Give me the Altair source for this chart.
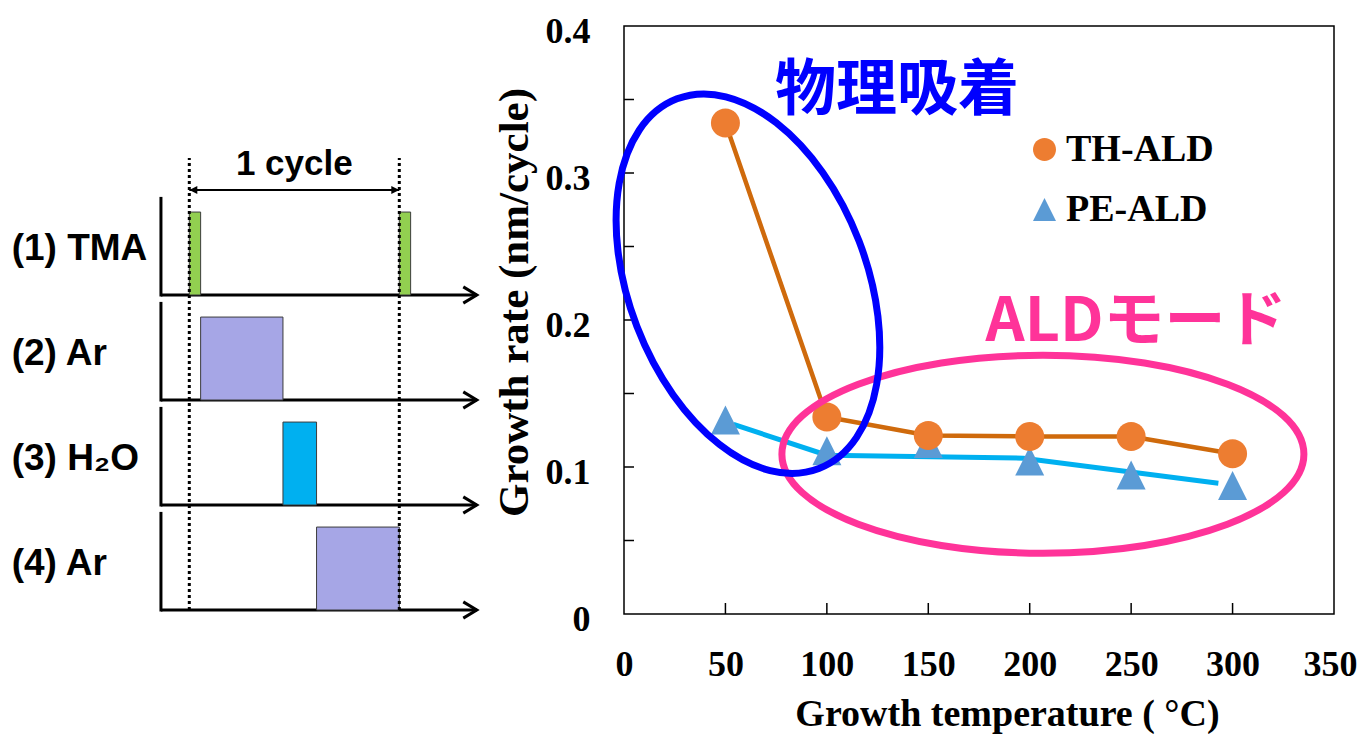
import altair as alt
import pandas as pd

# ---------------- data: right chart ----------------
TEMP = [50, 100, 150, 200, 250, 300]
TH_ALD = [0.334, 0.134, 0.1215, 0.1208, 0.1208, 0.109]
PE_ALD = [0.132, 0.111, 0.116, 0.104, 0.0946, 0.0874]
PE_LINE_TEMP = [54, 100, 197, 293]
PE_LINE_RATE = [0.129, 0.108, 0.106, 0.089]
SERIES = ["TH-ALD", "PE-ALD"]
X_LABELS = [0, 50, 100, 150, 200, 250, 300, 350]
Y_LABELS = [0, 0.1, 0.2, 0.3, 0.4]
X_TICKS = [50, 100, 150, 200, 250, 300]
Y_TICKS = [0.05, 0.1, 0.15, 0.2, 0.25, 0.3, 0.35]

NOTE_TEXT = ["物理吸着", "ALDモード"]
NOTE_TEMP = [134.6, 252.4]
NOTE_RATE = [0.355, 0.198]
ELLIPSE_TEMP = [61.1, 206.5]
ELLIPSE_RATE = [0.2247, 0.1087]

# ---------------- data: left timing diagram ----------------
ROW_LABELS = ["(1) TMA", "(2) Ar", "(3) H\u2082O", "(4) Ar"]
ROW_LEVEL = [3, 2, 1, 0]
PULSE_GAS = ["TMA", "TMA", "Ar", "H2O", "Ar"]
PULSE_ROW = [0, 0, 1, 2, 3]
PULSE_START = [0.0, 1.0, 0.054, 0.446, 0.606]
PULSE_END = [0.054, 1.054, 0.446, 0.606, 1.0]
CYCLE_BOUNDS = [0.0, 1.0]
CYCLE_LABEL = "1 cycle"

# ---------------- layout / style ----------------
PLOT_LEFT, PLOT_TOP, PLOT_W, PLOT_H = 624, 26, 710, 588
T0_PX, T_PX = 189.3, 210.0          # page x of t=0, px per cycle
V0_PY, V_PX = 610.0, 105.0          # page y of level 0, px per level
LX_DOM = [(PLOT_LEFT - T0_PX) / T_PX, (PLOT_LEFT + PLOT_W - T0_PX) / T_PX]
LY_DOM = [(V0_PY - (PLOT_TOP + PLOT_H)) / V_PX, (V0_PY - PLOT_TOP) / V_PX]
AXIS_T, ARROW_T, AXIS_H, PULSE_H, LABEL_T, LABEL_DV = -0.135, 1.369, 0.92, 0.79, -0.846, 0.44
DOT_TOP, CYCLE_V, CYCLE_TEXT_V = 4.305, 4.0, 4.243

GAS_COLOR = {"TMA": "#92D050", "Ar": "#A6A6E6", "H2O": "#00B0F0"}
SERIF = "Liberation Serif"
SANS = "Liberation Sans"
CJK = "Noto Sans CJK JP"

K = 0.5523


def ellipse_path(r):
    return (f"M 1 0 C 1 {K*r:.4f} {K:.4f} {r:.4f} 0 {r:.4f} "
            f"C {-K:.4f} {r:.4f} -1 {K*r:.4f} -1 0 "
            f"C -1 {-K*r:.4f} {-K:.4f} {-r:.4f} 0 {-r:.4f} "
            f"C {K:.4f} {-r:.4f} 1 {-K*r:.4f} 1 0 Z")


CIRCLE = ellipse_path(1.0)
TRIANGLE = "M 0 -1 L 1 1 L -1 1 Z"
CHEVRON = "M -1 -0.6 L 0 0 L -1 0.6"
HEAD = "M 0 0 L -1 -0.5 L -1 0.5 Z"

RX = alt.Scale(domain=[0, 350], nice=False, zero=False)
RY = alt.Scale(domain=[0, 0.4], nice=False, zero=False)
LX = alt.Scale(domain=LX_DOM, nice=False, zero=False)
LY = alt.Scale(domain=LY_DOM, nice=False, zero=False)


def xr(f):
    return alt.X(f"{f}:Q", scale=RX, axis=None)


def yr(f):
    return alt.Y(f"{f}:Q", scale=RY, axis=None)


def xl(f):
    return alt.X(f"{f}:Q", scale=LX, axis=None)


def yl(f):
    return alt.Y(f"{f}:Q", scale=LY, axis=None)


# ---------------- right chart layers ----------------
th_df = pd.DataFrame({"temp": TEMP, "rate": TH_ALD})
pe_line_df = pd.DataFrame({"temp": PE_LINE_TEMP, "rate": PE_LINE_RATE})
pts_df = pd.concat([
    pd.DataFrame({"temp": TEMP, "rate": PE_ALD, "series": SERIES[1]}),
    pd.DataFrame({"temp": TEMP, "rate": TH_ALD, "series": SERIES[0]}),
])

x_axis = alt.Axis(orient="bottom", values=X_LABELS, ticks=False, tickSize=0, domain=False, grid=False,
                  labelFont=SERIF, labelFontWeight="bold", labelFontSize=36, labelColor="black",
                  labelPadding=50, labelBaseline="middle", labelFlush=False, labelOverlap=False,
                  labelOffset={"condition": {"test": f"datum.value == {X_LABELS[-1]}", "value": -4}, "value": 0},
                  title="Growth temperature ( °C)", titleFont=SERIF, titleFontWeight="bold",
                  titleFontSize=38, titleColor="black", titleX=383, titleY=100,
                  titleAlign="center", titleBaseline="middle")
y_axis = alt.Axis(orient="left", values=Y_LABELS, format=".1~f", ticks=False, tickSize=0, domain=False,
                  grid=False, labelFont=SERIF, labelFontWeight="bold", labelFontSize=36,
                  labelColor="black", labelPadding=34, labelOffset=5, labelBaseline="middle",
                  labelAlign="right", labelFlush=False, labelOverlap=False,
                  title="Growth rate (nm/cycle)", titleFont=SERIF, titleFontWeight="bold",
                  titleFontSize=43, titleColor="black", titleX=-110, titleY=276, titleAngle=270,
                  titleAlign="center", titleBaseline="middle")

pe_line = alt.Chart(pe_line_df).mark_line(color="#00B0F0", strokeWidth=5).encode(
    x=alt.X("temp:Q", scale=RX, axis=x_axis), y=alt.Y("rate:Q", scale=RY, axis=y_axis))
th_line = alt.Chart(th_df).mark_line(color="#CF6A0C", strokeWidth=4.5).encode(x=xr("temp"), y=yr("rate"))

legend = alt.Legend(orient="none", legendX=401.5, legendY=104.5, title=None, symbolSize=529,
                    symbolStrokeWidth=0, labelFont=SERIF, labelFontSize=38, labelFontWeight="bold",
                    labelColor="black", labelOffset=2.5, rowPadding=22, padding=0, symbolOffset=0,
                    labelLimit=400)
points = alt.Chart(pts_df).mark_point(filled=True, size=841, opacity=1).encode(
    x=xr("temp"), y=yr("rate"),
    color=alt.Color("series:N", scale=alt.Scale(domain=SERIES, range=["#ED7D31", "#5B9BD5"]), legend=legend),
    shape=alt.Shape("series:N", scale=alt.Scale(domain=SERIES, range=[CIRCLE, TRIANGLE]), legend=legend),
)

ytick = alt.Chart(pd.DataFrame({"rate": Y_TICKS, "temp": 0})).mark_tick(
    orient="horizontal", size=10, thickness=1.5, color="black", opacity=1, xOffset=5).encode(
    x=xr("temp"), y=yr("rate"))
xtick = alt.Chart(pd.DataFrame({"temp": X_TICKS, "rate": 0})).mark_tick(
    orient="vertical", size=11, thickness=1.5, color="black", opacity=1, yOffset=-5.5).encode(
    x=xr("temp"), y=yr("rate"))

ell_df = pd.DataFrame({"temp": ELLIPSE_TEMP, "rate": ELLIPSE_RATE})
pink = alt.Chart(ell_df.iloc[[1]]).mark_point(
    shape=ellipse_path(99 / 261), size=(2 * 261) ** 2, filled=False, stroke="#FF3399",
    strokeWidth=7, opacity=1).encode(x=xr("temp"), y=yr("rate"))
blue = alt.Chart(ell_df.iloc[[0]]).mark_point(
    shape=ellipse_path(119 / 198), size=(2 * 198) ** 2, angle=69, filled=False, stroke="#0000FF",
    strokeWidth=7, opacity=1).encode(x=xr("temp"), y=yr("rate"))

note_df = pd.DataFrame({"text": NOTE_TEXT, "temp": NOTE_TEMP, "rate": NOTE_RATE})
note_colors = ["#0000FF", "#FF3399"]
notes = [
    alt.Chart(note_df.iloc[[i]]).mark_text(font=CJK, fontWeight="bold", fontSize=61, color=note_colors[i],
                                           align="center", baseline="middle").encode(
        x=xr("temp"), y=yr("rate"), text="text:N")
    for i in range(2)
]

# ---------------- left diagram layers ----------------
rows_df = pd.DataFrame({"label": ROW_LABELS, "level": ROW_LEVEL})
rows_df["axis_t"] = AXIS_T
rows_df["arrow_t"] = ARROW_T
rows_df["axis_top"] = rows_df["level"] + AXIS_H
rows_df["label_t"] = LABEL_T
rows_df["label_v"] = rows_df["level"] + LABEL_DV

pulse_df = pd.DataFrame({"gas": PULSE_GAS, "t0": PULSE_START, "t1": PULSE_END})
pulse_df["level"] = [ROW_LEVEL[r] for r in PULSE_ROW]
pulse_df["top"] = pulse_df["level"] + PULSE_H
pulse_df["fill"] = [GAS_COLOR[g] for g in PULSE_GAS]

dot_df = pd.DataFrame({"t": CYCLE_BOUNDS, "v0": 0.0, "v1": DOT_TOP})
head_df = pd.DataFrame({"t": CYCLE_BOUNDS, "v": CYCLE_V, "ang": [180, 0]})

ax_v = alt.Chart(rows_df).mark_rule(strokeWidth=3, color="black", strokeCap="square").encode(
    x=xl("axis_t"), y=yl("level"), y2="axis_top")
ax_h = alt.Chart(rows_df).mark_rule(strokeWidth=3, color="black").encode(
    x=xl("axis_t"), x2="arrow_t", y=yl("level"))
ax_head = alt.Chart(rows_df).mark_point(shape=CHEVRON, size=729, filled=False, stroke="black",
                                        strokeWidth=3, opacity=1).encode(x=xl("arrow_t"), y=yl("level"))
pulses = alt.Chart(pulse_df).mark_rect(stroke="#3C3C3C", strokeWidth=1).encode(
    x=xl("t0"), x2="t1", y=yl("level"), y2="top", fill=alt.Fill("fill:N", scale=None))
dots = alt.Chart(dot_df).mark_rule(strokeWidth=3, strokeDash=[3, 3], color="black").encode(
    x=xl("t"), y=yl("v0"), y2="v1")
cyc_line = alt.Chart(pd.DataFrame({"t0": [CYCLE_BOUNDS[0]], "t1": [CYCLE_BOUNDS[1]], "v": [CYCLE_V]})).mark_rule(
    strokeWidth=2, color="black").encode(x=xl("t0"), x2="t1", y=yl("v"))
cyc_heads = alt.Chart(head_df).mark_point(shape=HEAD, size=256, filled=True, color="black", opacity=1).encode(
    x=xl("t"), y=yl("v"), angle=alt.Angle("ang:Q", scale=None))
cyc_text = alt.Chart(pd.DataFrame({"text": [CYCLE_LABEL], "t": [sum(CYCLE_BOUNDS) / 2], "v": [CYCLE_TEXT_V]})).mark_text(
    font=SANS, fontWeight="bold", fontSize=35, color="black", align="center", baseline="middle").encode(
    x=xl("t"), y=yl("v"), text="text:N")
row_text = alt.Chart(rows_df).mark_text(font=SANS, fontWeight="bold", fontSize=37, color="black",
                                        align="left", baseline="middle").encode(
    x=xl("label_t"), y=yl("label_v"), text="label:N")

chart = alt.layer(
    pe_line, th_line, points, ytick, xtick, pink, blue, *notes,
    ax_v, ax_h, ax_head, pulses, dots, cyc_line, cyc_heads, cyc_text, row_text,
).resolve_scale(x="independent", y="independent").properties(
    width=PLOT_W, height=PLOT_H,
    background="white",
    autosize=alt.AutoSizeParams(type="none"),
    padding={"left": PLOT_LEFT - 8, "top": PLOT_TOP - 8, "right": 23, "bottom": 120},
).configure_view(stroke="black", strokeWidth=1.5)

chart.save("out.html", embed_options={"renderer": "svg", "actions": False})
